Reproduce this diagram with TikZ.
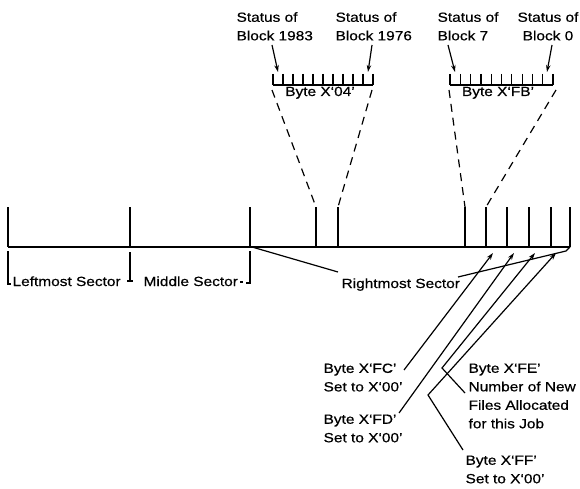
\documentclass[tikz,border=0pt]{standalone}
\usepackage{fontspec}
\setmainfont[FakeStretch=1.16,FakeBold=0.6]{Liberation Sans}
\usetikzlibrary{arrows.meta}
\begin{document}
\begin{tikzpicture}[x=1pt,y=-1pt,line width=1.2pt,
  lbl/.style={inner sep=0pt,font=\fontsize{13.3}{18.5}\selectfont},
  lblL/.style={lbl,anchor=north west,align=left},
  tickln/.style={line width=1.2pt},
  dashln/.style={line width=1.2pt,dash pattern=on 8pt off 6pt},
  arr/.style={-{Stealth[length=7pt,width=4.5pt]}}]
\useasboundingbox (0,0) rectangle (580,489);

% main line and ticks
\coordinate (L) at (8,247);
\coordinate (R) at (570,247);
\draw (L) -- (R);
\foreach \x/\n in {8/t0,130/t1,250/t2,316/t3,338/t4,465/t5,486/t6,507/t7,529/t8,551/t9,570/t10}{
  \draw[tickln] (\x,207) coordinate (\n) -- (\x,247);
}

% byte X'04' box
\draw (273,85) -- (373,85);
\foreach \i in {0,...,10}{ \draw (273+\i*10,74) -- (273+\i*10,85); }
\coordinate (a1) at (272,90);
\coordinate (a2) at (372,90);
\draw[dashln] (a1) -- (t3);
\draw[dashln] (a2) -- (t4);
\node[lbl,anchor=base] (b04) at (320,96) {Byte X‘04’};

% byte X'FB' box
\draw (450,85) -- (553,85);
\foreach \i in {0,...,10}{ \draw (450+\i*10.3,74) -- (450+\i*10.3,85); }
\coordinate (c1) at (449,90);
\coordinate (c2) at (556,90);
\draw[dashln] (c1) -- (t5);
\draw[dashln] (c2) -- (t6);
\node[lbl,anchor=base] (bfb) at (498,96) {Byte X‘FB’};

% status labels
\node[lblL] (s1983) at (236,11.6) {Status of\\Block 1983};
\node[lblL] (s1976) at (335,11.6) {Status of\\Block 1976};
\node[lblL] (s7) at (437,11.6) {Status of\\Block 7};
\node[lbl,anchor=north,align=center] (s0) at (548,11.6) {Status of\\Block 0};
\draw[arr] (272,45) -- (278,72);
\draw[arr] (372,45) -- (368,72);
\draw[arr] (448,45) -- (455,72);
\draw[arr] (552,45) -- (547,72);

% sector brackets
\draw (8,251) -- (8,284) -- (11,284);
\draw (130,252) -- (130,281);
\draw (127,281) -- (133,281);
\draw (250,251) -- (250,283) -- (246,283);
\draw (240,282) -- (243,282);
\node[lbl,anchor=base west] (lm) at (12,286) {Leftmost Sector};
\node[lbl,anchor=base west] (ms) at (143,286) {Middle Sector};
\node[lbl,anchor=base west] (rs) at (341,288) {Rightmost Sector};
\draw (252,247) -- (338,272);
\draw (458,277) -- (566,251) -- (R);

% bottom labels
\node[lblL] (fc) at (323,363) {Byte X‘FC’\\Set to X‘00’};
\node[lblL] (fd) at (323,414) {Byte X‘FD’\\Set to X‘00’};
\node[lblL] (fe) at (468,363) {Byte X‘FE’\\Number of New\\Files Allocated\\for this Job};
\node[lblL] (ff) at (465,455) {Byte X‘FF’\\Set to X‘00’};

\draw[arr] (404,370) -- (493,253);
\draw[arr] (399,413) -- (514,253);
\draw[arr] (465,393) -- (442,368) -- (535,253);
\draw[arr] (463,450) -- (428,395) -- (556,253);
\end{tikzpicture}
\end{document}
